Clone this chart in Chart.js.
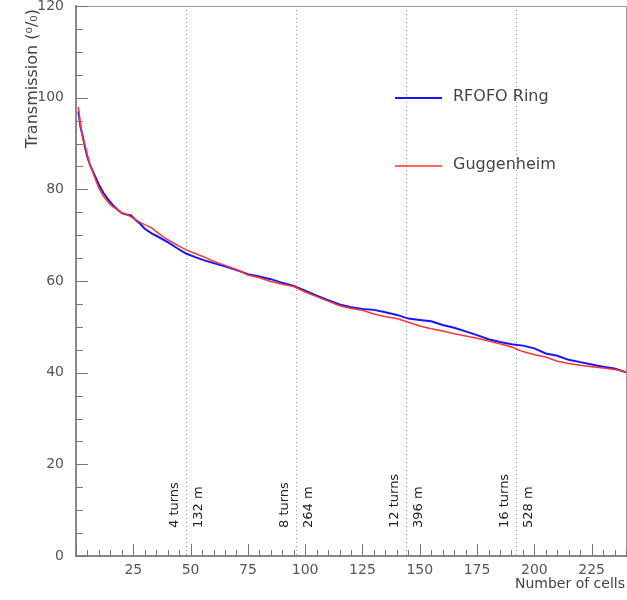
<!DOCTYPE html>
<html>
<head>
<meta charset="utf-8">
<script src="https://cdn.jsdelivr.net/npm/chart.js@4.4.1/dist/chart.umd.min.js"></script>
<style>
  html, body { margin: 0; padding: 0; background: #fff; }
  #chart { display: block; }
</style>
</head>
<body>
<canvas id="chart" width="627" height="600"></canvas>
<script>
// cells along the ring, and transmission (%)
const cells = [1, 2, 3, 4, 5, 6, 8, 10, 12, 14, 16, 18, 20, 22, 24, 26, 28, 30, 33, 36, 40, 44, 48, 52, 56, 60,
  65, 70, 75, 80, 85, 90, 95, 100, 105, 110, 115, 120, 125, 130, 135, 140, 145, 150, 155, 160, 165, 170,
  175, 180, 185, 190, 195, 200, 205, 210, 215, 220, 225, 230, 235, 240];
const rfofoRing = [97.0, 93.5, 91.5, 89.0, 87.0, 85.5, 83.2, 81.0, 79.2, 77.8, 76.6, 75.6, 74.8, 74.5, 74.3, 73.3,
  72.5, 71.4, 70.4, 69.6, 68.5, 67.2, 66.0, 65.2, 64.5, 63.9, 63.2, 62.4, 61.5, 61.0, 60.4, 59.6, 58.9, 57.9,
  56.8, 55.8, 54.9, 54.3, 53.9, 53.7, 53.2, 52.6, 51.8, 51.5, 51.2, 50.4, 49.8, 49.0, 48.2, 47.3, 46.7, 46.2,
  45.9, 45.3, 44.2, 43.7, 42.8, 42.3, 41.8, 41.3, 40.9, 40.1];
const guggenheim = [98.0, 94.0, 91.0, 89.5, 87.5, 85.5, 82.8, 80.2, 78.5, 77.2, 76.2, 75.6, 74.9, 74.6, 74.0, 73.4,
  72.8, 72.3, 71.6, 70.4, 69.0, 67.9, 66.8, 66.0, 65.2, 64.3, 63.4, 62.5, 61.3, 60.7, 59.9, 59.3, 58.8, 57.6,
  56.6, 55.6, 54.6, 54.0, 53.6, 52.8, 52.2, 51.8, 51.0, 50.2, 49.6, 49.1, 48.5, 48.0, 47.5, 46.9, 46.3, 45.6,
  44.6, 43.9, 43.4, 42.5, 42.0, 41.6, 41.3, 41.0, 40.7, 40.2];

// turn markers (12 cells per turn, 33 m per turn)
const turnCells = [48, 96, 144, 192];
const turnLabels = ['4 turns', '8 turns', '12 turns', '16 turns'];
const distLabels = ['132 m', '264 m', '396 m', '528 m'];

const FONT = "'DejaVu Sans', sans-serif";

function toPoints(xs, ys) {
  return xs.map((x, i) => ({ x: x, y: ys[i] }));
}

// dotted turn lines under the curves
const turnLines = {
  id: 'turnLines',
  beforeDatasetsDraw(chart) {
    const ctx = chart.ctx;
    const xs = chart.scales.x;
    const area = chart.chartArea;
    ctx.save();
    ctx.strokeStyle = '#999';
    ctx.lineWidth = 1;
    ctx.setLineDash([1, 3]);
    turnCells.forEach(c => {
      const px = Math.round(xs.getPixelForValue(c)) + 0.5;
      ctx.beginPath();
      ctx.moveTo(px, area.top);
      ctx.lineTo(px, area.bottom);
      ctx.stroke();
    });
    ctx.restore();
  }
};

// inward ticks, frame, titles, annotations, legend
const decorations = {
  id: 'decorations',
  afterDraw(chart) {
    const ctx = chart.ctx;
    const xs = chart.scales.x, ys = chart.scales.y;
    const area = chart.chartArea;
    ctx.save();

    // frame top + right
    ctx.strokeStyle = '#999';
    ctx.lineWidth = 1;
    ctx.beginPath();
    ctx.moveTo(area.left, area.top + 0.5);
    ctx.lineTo(area.right + 0.5, area.top + 0.5);
    ctx.lineTo(area.right + 0.5, area.bottom);
    ctx.stroke();

    // ticks pointing into the plot
    ctx.strokeStyle = '#777';
    ctx.lineWidth = 1;
    xs.ticks.forEach(t => {
      const px = Math.round(xs.getPixelForValue(t.value)) + 0.5;
      const len = t.value % 25 === 0 ? 12 : 6;
      ctx.beginPath();
      ctx.moveTo(px, area.bottom);
      ctx.lineTo(px, area.bottom - len);
      ctx.stroke();
    });
    ys.ticks.forEach(t => {
      const py = Math.round(ys.getPixelForValue(t.value)) + 0.5;
      const len = t.value % 20 === 0 ? 12 : 7;
      ctx.beginPath();
      ctx.moveTo(area.left, py);
      ctx.lineTo(area.left + len, py);
      ctx.stroke();
    });

    // axis titles
    ctx.fillStyle = '#444';
    ctx.font = '14px ' + FONT;
    ctx.textAlign = 'right';
    ctx.textBaseline = 'middle';
    ctx.fillText('Number of cells', 625, 584);

    ctx.save();
    ctx.translate(33, 9);
    ctx.rotate(-Math.PI / 2);
    ctx.font = '16px ' + FONT;
    ctx.textAlign = 'right';
    ctx.fillText('Transmission (\u2070/\u2080)', 0, 0);
    ctx.restore();

    // turn annotations
    ctx.fillStyle = '#222';
    ctx.font = '13px ' + FONT;
    turnCells.forEach((c, i) => {
      const px = xs.getPixelForValue(c);
      [[turnLabels[i], -11], [distLabels[i], 13]].forEach(([txt, dx]) => {
        ctx.save();
        ctx.translate(px + dx, 528);
        ctx.rotate(-Math.PI / 2);
        ctx.textAlign = 'left';
        ctx.textBaseline = 'middle';
        ctx.fillText(txt, 0, 0);
        ctx.restore();
      });
    });

    // legend
    const legendY = [98, 166];
    ctx.font = '16px ' + FONT;
    ctx.textAlign = 'left';
    ctx.textBaseline = 'middle';
    chart.data.datasets.forEach((ds, i) => {
      ctx.strokeStyle = ds.borderColor;
      ctx.lineWidth = ds.borderWidth;
      ctx.beginPath();
      ctx.moveTo(395, legendY[i]);
      ctx.lineTo(442, legendY[i]);
      ctx.stroke();
      ctx.fillStyle = '#444';
      ctx.fillText(ds.label, 453, legendY[i] - 1);
    });

    ctx.restore();
  }
};

const ctx = document.getElementById('chart').getContext('2d');
new Chart(ctx, {
  type: 'line',
  data: {
    datasets: [
      {
        label: 'RFOFO Ring',
        data: toPoints(cells, rfofoRing),
        borderColor: '#1515ff',
        borderWidth: 2,
        pointRadius: 0,
        tension: 0,
        fill: false,
        order: 2
      },
      {
        label: 'Guggenheim',
        data: toPoints(cells, guggenheim),
        borderColor: '#ff3535',
        borderWidth: 1.5,
        pointRadius: 0,
        tension: 0,
        fill: false,
        order: 1
      }
    ]
  },
  options: {
    responsive: false,
    animation: false,
    layout: { padding: { top: 6, right: 1, left: 0, bottom: 0 } },
    plugins: {
      legend: { display: false },
      tooltip: { enabled: false }
    },
    scales: {
      x: {
        type: 'linear',
        min: 0,
        max: 240,
        grid: { display: false, drawTicks: false },
        border: { display: true, color: '#888', width: 2 },
        ticks: {
          stepSize: 5,
          autoSkip: false,
          maxRotation: 0,
          padding: 6,
          color: '#555',
          font: { family: FONT, size: 14 },
          callback: v => (v % 25 === 0 && v > 0 && v < 240) ? v : ''
        },
        afterFit: s => { s.height = 44; s.paddingLeft = 0; s.paddingRight = 0; }
      },
      y: {
        min: 0,
        max: 120,
        grid: { display: false, drawTicks: false },
        border: { display: true, color: '#888', width: 2 },
        ticks: {
          stepSize: 5,
          autoSkip: false,
          padding: 12,
          color: '#555',
          font: { family: FONT, size: 14 },
          callback: v => v % 20 === 0 ? v : ''
        },
        afterFit: s => { s.width = 76; s.paddingTop = 0; s.paddingBottom = 0; }
      }
    }
  },
  plugins: [turnLines, decorations]
});
</script>
</body>
</html>
